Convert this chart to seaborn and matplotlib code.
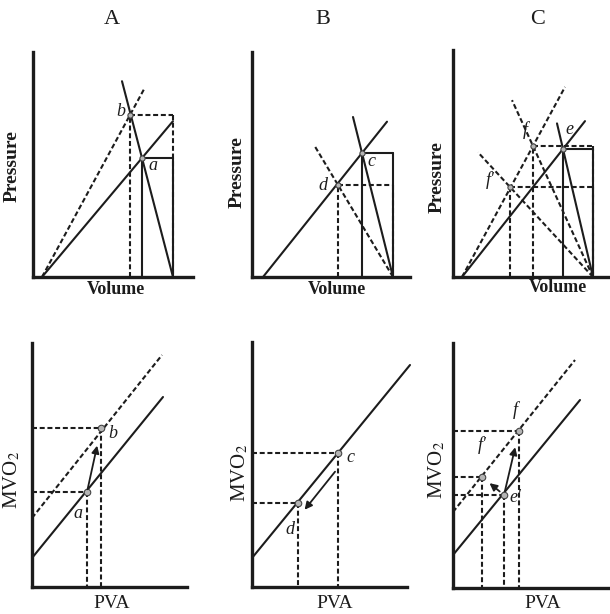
import numpy as np
import matplotlib
matplotlib.use("Agg")
import matplotlib.pyplot as plt
import seaborn as sns

# ---- values (1 unit ~ 1 px of the original) ----
# top row: pressure-volume diagrams (V0 = x-intercept of ESPVR, EDV = end-diastolic volume)
pv_A_names = ["a", "b"]
pv_A_esv = [109, 97]
pv_A_esp = [119, 162]
pv_A_v0 = 9
pv_A_edv = 140
pv_A_espvr_end = [140, 112]      # volume where each ESPVR line stops
pv_A_ea_end = [89, np.nan]       # volume where each Ea line stops (nan = shared line)

pv_B_names = ["c", "d"]
pv_B_esv = [110, 86]
pv_B_esp = [124, 92]
pv_B_v0 = 11
pv_B_edv = 141
pv_B_espvr_end = [135, np.nan]
pv_B_ea_end = [101, 63]

pv_C_names = ["e", "f", "f'"]
pv_C_esv = [110, 80, 57]
pv_C_esp = [128, 131, 90]
pv_C_v0 = 9
pv_C_edv = 140
pv_C_espvr_end = [132, 112, np.nan]
pv_C_ea_end = [104, 59, 25]

# bottom row: MVO2-PVA relations (intercept at PVA=0, end point of the line)
mv_A_intercept = [29, 69]
mv_A_end_x = [131, 130]
mv_A_end_y = [190, 232]
mv_A_names = ["a", "b"]
mv_A_pva = [55, 69]
mv_A_mvo2 = [95, 159]

mv_B_intercept = [29]
mv_B_end_x = [158]
mv_B_end_y = [222]
mv_B_names = ["c", "d"]
mv_B_pva = [86, 46]
mv_B_mvo2 = [134, 84]

mv_C_intercept = [33, 76]
mv_C_end_x = [127, 122]
mv_C_end_y = [188, 228]
mv_C_names = ["e'", "f", "f'"]
mv_C_pva = [51, 66, 29]
mv_C_mvo2 = [93, 157, 111]

# ---- drawing ----
W, H = 610, 614
INK = "#1c1c1c"
DASH = (0, (2.4, 1.3))
SERIF = ["Liberation Serif", "DejaVu Serif"]

sns.set_style("white")
plt.rcParams["mathtext.fontset"] = "stix"

fig = plt.figure(figsize=(W / 100, H / 100), dpi=100)


def make_axes(x0, y0, x1, y1):
    # pixel box of the axis corner in the 610x614 picture
    ax = fig.add_axes([x0 / W, 1 - y1 / H, (x1 - x0) / W, (y1 - y0) / H])
    ax.set_xlim(0, x1 - x0)
    ax.set_ylim(0, y1 - y0)
    ax.set_xticks([])
    ax.set_yticks([])
    sns.despine(ax=ax)
    for s in ("left", "bottom"):
        ax.spines[s].set_linewidth(2.4)
        ax.spines[s].set_color(INK)
    ax.patch.set_alpha(0)
    return ax


def seg(ax, x, y, dashed=False, lw=1.5):
    sns.lineplot(x=x, y=y, ax=ax, color=INK, lw=lw, sort=False, estimator=None,
                 linestyle=DASH if dashed else "-", clip_on=False)


def dots(ax, x, y, s=22):
    sns.scatterplot(x=x, y=y, ax=ax, s=s, color="#b5b5b5", edgecolor="#444",
                    linewidth=0.8, zorder=5, clip_on=False)


def label(ax, txt, x, y, dx, dy, size=13):
    ax.text(x + dx, y + dy, txt, fontsize=size, style="italic", family=SERIF,
            color=INK, ha="center", va="center", zorder=6)


def pv_panel(ax, names, esv, esp, v0, edv, espvr_end, ea_end, dashed, offs):
    for i in range(len(names)):
        dsh = dashed[i]
        # pressure-volume loop (rectangle)
        seg(ax, [esv[i], esv[i]], [0, esp[i]], dsh)
        seg(ax, [esv[i], edv], [esp[i], esp[i]], dsh)
        seg(ax, [edv, edv], [esp[i], 0], dsh)
        # ESPVR through V0
        if not np.isnan(espvr_end[i]):
            k = esp[i] / (esv[i] - v0)
            seg(ax, [v0, espvr_end[i]], [0, k * (espvr_end[i] - v0)], dsh)
        # effective arterial elastance line through EDV
        if not np.isnan(ea_end[i]):
            ea = esp[i] / (edv - esv[i])
            seg(ax, [edv, ea_end[i]], [0, ea * (edv - ea_end[i])], dsh)
        label(ax, names[i], esv[i], esp[i], *offs[i])
    dots(ax, esv, esp, s=14)


def mv_panel(ax, intercept, end_x, end_y, pva, mvo2, names, offs):
    for i in range(len(intercept)):
        seg(ax, [0, end_x[i]], [intercept[i], end_y[i]], i == 1)
    for i in range(len(pva)):
        seg(ax, [0, pva[i]], [mvo2[i], mvo2[i]], True)
        seg(ax, [pva[i], pva[i]], [mvo2[i], 0], True)
        label(ax, names[i], pva[i], mvo2[i], *offs[i])
    dots(ax, pva, mvo2)


def arrow(ax, p0, p1, shrink_a, shrink_b, off=(0, 0)):
    ax.annotate("", xy=(p1[0] + off[0], p1[1] + off[1]),
                xytext=(p0[0] + off[0], p0[1] + off[1]),
                arrowprops=dict(arrowstyle="-|>", color=INK, lw=1.3,
                                mutation_scale=11, shrinkA=shrink_a, shrinkB=shrink_b),
                zorder=6)


# top row
axA = make_axes(33, 52, 193, 277)
pv_panel(axA, pv_A_names, pv_A_esv, pv_A_esp, pv_A_v0, pv_A_edv,
         pv_A_espvr_end, pv_A_ea_end, [False, True], [(11, -7), (-9, 3)])
axB = make_axes(252, 52, 410, 277)
pv_panel(axB, pv_B_names, pv_B_esv, pv_B_esp, pv_B_v0, pv_B_edv,
         pv_B_espvr_end, pv_B_ea_end, [False, True], [(9, -9), (-15, 0)])
axC = make_axes(453, 50, 608, 277)
pv_panel(axC, pv_C_names, pv_C_esv, pv_C_esp, pv_C_v0, pv_C_edv,
         pv_C_espvr_end, pv_C_ea_end, [False, True, True], [(6, 19), (-8, 16), (-20, 7)])

# bottom row
axD = make_axes(32, 343, 187, 587)
mv_panel(axD, mv_A_intercept, mv_A_end_x, mv_A_end_y, mv_A_pva, mv_A_mvo2,
         mv_A_names, [(-9, -21), (12, -5)])
arrow(axD, (mv_A_pva[0], mv_A_mvo2[0]), (mv_A_pva[1], mv_A_mvo2[1]), 2, 13)

axE = make_axes(252, 342, 407, 587)
mv_panel(axE, mv_B_intercept, mv_B_end_x, mv_B_end_y, mv_B_pva, mv_B_mvo2,
         mv_B_names, [(12, -4), (-8, -27)])
arrow(axE, (mv_B_pva[0], mv_B_mvo2[0]), (mv_B_pva[1], mv_B_mvo2[1]), 8, 3, off=(4, -10))

axF = make_axes(453, 343, 610, 588)
mv_panel(axF, mv_C_intercept, mv_C_end_x, mv_C_end_y, mv_C_pva, mv_C_mvo2,
         mv_C_names, [(11, -2), (-4, 21), (0, 32)])
arrow(axF, (mv_C_pva[0], mv_C_mvo2[0]), (mv_C_pva[1], mv_C_mvo2[1]), 3, 12)
arrow(axF, (mv_C_pva[0], mv_C_mvo2[0]), (mv_C_pva[2], mv_C_mvo2[2]), 4, 7)


# column titles and axis labels (placed in picture pixels)
def ftext(x, y, s, **kw):
    fig.text(x / W, 1 - y / H, s, ha="center", va="center", color=INK, family=SERIF, **kw)


for x, t in [(112, "A"), (323, "B"), (538, "C")]:
    ftext(x, 20, t, fontsize=16)
for x, y in [(116, 290), (337, 290), (558, 287)]:
    ftext(x, y, "Volume", fontsize=13, fontweight="bold")
for x, y in [(12, 166), (237, 172), (437, 177)]:
    ftext(x, y, "Pressure", fontsize=14, fontweight="bold", rotation=90)
for x in (112, 335, 543):
    ftext(x, 603, "PVA", fontsize=14)
for x, y in [(12, 480), (240, 473), (437, 470)]:
    ftext(x, y, "MVO$_2$", fontsize=15, rotation=90)

fig.savefig("out.png", dpi=100)
